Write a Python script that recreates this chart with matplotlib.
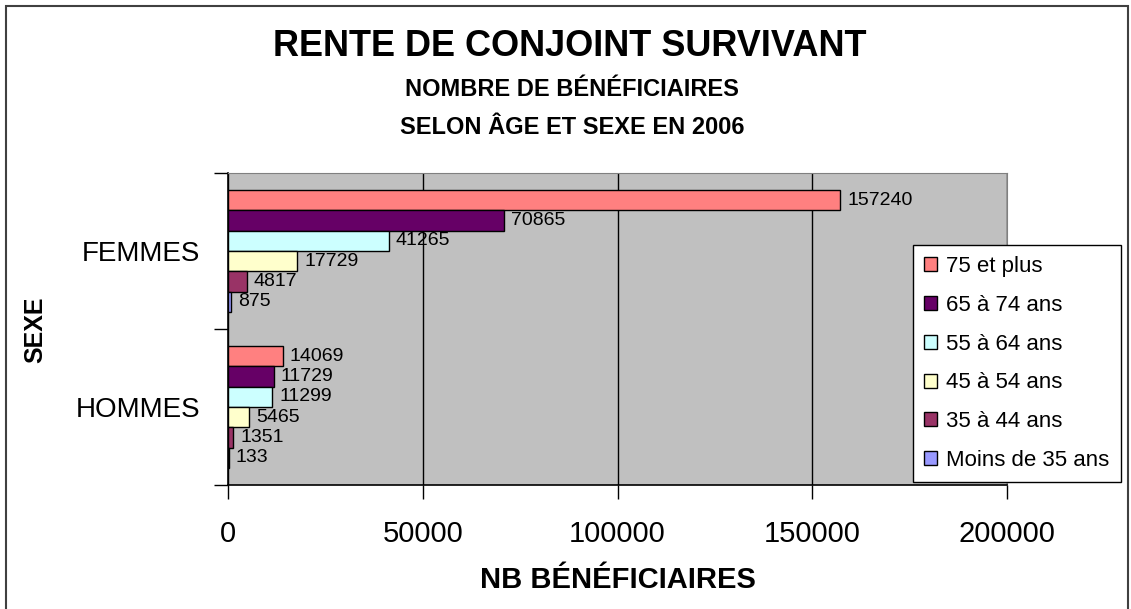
import numpy as np
import matplotlib
matplotlib.use("Agg")
import matplotlib.pyplot as plt
from matplotlib.patches import Patch, Rectangle

plt.rcParams["font.family"] = ["Liberation Sans", "DejaVu Sans"]

# data
sexes = ["HOMMES", "FEMMES"]
groupes = ["75 et plus", "65 à 74 ans", "55 à 64 ans",
           "45 à 54 ans", "35 à 44 ans", "Moins de 35 ans"]
femmes = [157240, 70865, 41265, 17729, 4817, 875]
hommes = [14069, 11729, 11299, 5465, 1351, 133]
couleurs = ["#FF8080", "#660066", "#CCFFFF", "#FFFFCC", "#993366", "#9999FF"]
xticks = [0, 50000, 100000, 150000, 200000]

W, H = 1131, 609
fig = plt.figure(figsize=(W / 100, H / 100), dpi=100)
ax = fig.add_axes([228 / W, 1 - 485 / H, (1007 - 228) / W, (485 - 173) / H])
ax.set_facecolor("#C0C0C0")

h = 0.13
ypos = np.arange(len(sexes))
for i, (g, c) in enumerate(zip(groupes, couleurs)):
    vals = [hommes[i], femmes[i]]
    y = ypos + 0.39 - h * (i + 0.5)
    ax.barh(y, vals, height=h, color=c, edgecolor="black", linewidth=1.0,
            label=g, zorder=3)
    for yy, v in zip(y, vals):
        ax.text(v + 1800, yy, str(v), va="center", ha="left",
                fontsize=14, zorder=4)

ax.set_xlim(0, 200000)
ax.set_ylim(-0.5, 1.5)
ax.set_xticks(xticks)
ax.set_xticklabels([str(t) for t in xticks], fontsize=21)
ax.tick_params(axis="x", length=10, width=1, pad=15, direction="out")
ax.grid(axis="x", color="black", linewidth=1, zorder=1)

# category boundaries get the tick marks, names sit between them
ax.set_yticks([-0.5, 0.5, 1.5])
ax.set_yticklabels([])
ax.set_yticks(ypos, minor=True)
ax.set_yticklabels(sexes, minor=True, fontsize=20)
ax.tick_params(axis="y", which="major", length=10, width=1)
ax.tick_params(axis="y", which="minor", length=0, pad=20)

ax.spines["top"].set_color("#808080")
ax.spines["right"].set_color("#808080")
ax.spines["left"].set_linewidth(1.2)
ax.spines["bottom"].set_linewidth(1.2)

handles = [Patch(facecolor=c, edgecolor="black", label=g)
           for g, c in zip(groupes, couleurs)]
leg = fig.legend(handles=handles, loc="upper left",
                 bbox_to_anchor=(913 / W, 1 - 245 / H), borderaxespad=0,
                 fontsize=16, frameon=True, fancybox=False, framealpha=1,
                 handlelength=0.6, handleheight=0.6, handletextpad=0.4,
                 labelspacing=0.8, borderpad=0.5)
leg.get_frame().set_facecolor("white")
leg.get_frame().set_edgecolor("black")
leg.get_frame().set_linewidth(1.0)

fig.text(570 / W, 1 - 46 / H, "RENTE DE CONJOINT SURVIVANT",
         ha="center", va="center", fontsize=26, fontweight="bold")
fig.text(572 / W, 1 - 90 / H, "NOMBRE DE BÉNÉFICIAIRES",
         ha="center", va="center", fontsize=17, fontweight="bold")
fig.text(572 / W, 1 - 127 / H, "SELON ÂGE ET SEXE EN 2006",
         ha="center", va="center", fontsize=17, fontweight="bold")
fig.text(618 / W, 1 - 580 / H, "NB BÉNÉFICIAIRES",
         ha="center", va="center", fontsize=21, fontweight="bold")
fig.text(35 / W, 1 - 330 / H, "SEXE", ha="center", va="center",
         rotation=90, fontsize=18, fontweight="bold")

fig.patches.append(Rectangle((6 / W, -0.01), 1122 / W, 1 - 6 / H + 0.01,
                             transform=fig.transFigure, fill=False,
                             edgecolor="#404040", linewidth=1.5))

fig.savefig("out.png", dpi=100)
